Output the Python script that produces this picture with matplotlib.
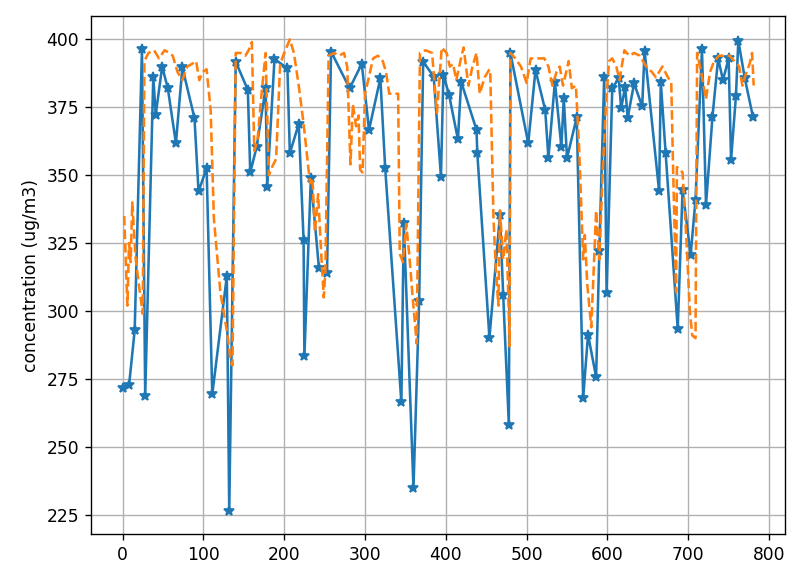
import matplotlib
matplotlib.use("Agg")
import matplotlib.pyplot as plt

# Observed series (blue, star markers)
obs_x = [0, 8, 15, 24, 28, 38, 41, 49, 56, 66, 74, 89, 94, 104, 111, 129, 132, 140,
         155, 158, 166, 177, 179, 188, 204, 207, 218, 224, 225, 233, 243, 253, 258,
         281, 296, 305, 319, 325, 345, 348, 360, 367, 372, 385, 394, 397, 404, 415,
         419, 438, 439, 454, 467, 471, 478, 480, 502, 511, 523, 527, 535, 543, 546,
         550, 562, 570, 576, 586, 590, 596, 599, 606, 614, 617, 622, 625, 633, 643,
         646, 664, 666, 672, 687, 693, 703, 709, 717, 722, 730, 737, 743, 750, 753,
         759, 762, 770, 780]
obs_y = [271.7, 272.6, 292.9, 396.5, 268.6, 386.3, 372.2, 390.0, 382.0, 361.8, 389.7,
         371.0, 344.0, 352.6, 269.3, 312.8, 226.4, 391.8, 381.4, 351.0, 360.5, 382.0,
         345.8, 392.8, 389.3, 358.1, 368.9, 326.2, 283.3, 348.9, 315.8, 314.0, 395.5,
         382.0, 391.0, 366.7, 385.7, 352.6, 266.4, 332.4, 234.9, 303.6, 391.8, 386.3,
         349.5, 387.0, 379.6, 363.2, 384.4, 366.7, 358.1, 290.1, 335.4, 306.0, 258.2,
         394.9, 361.8, 388.7, 374.0, 356.3, 384.4, 360.5, 378.3, 356.3, 371.3, 268.0,
         291.3, 275.7, 322.0, 386.3, 306.6, 382.0, 385.7, 374.6, 382.6, 371.0, 383.8,
         375.3, 395.8, 344.0, 384.4, 358.3, 293.4, 344.6, 320.7, 341.0, 396.3, 339.1,
         371.6, 393.0, 385.0, 393.0, 355.7, 379.0, 399.5, 385.7, 371.6]

# Predicted series (orange, dashed)
pred_x = [2, 6, 8, 10, 12, 16, 20, 25, 27, 32, 39, 45, 52, 58, 62, 68, 74, 80, 86, 91,
          95, 99, 104, 109, 113, 121, 130, 134, 136, 140, 146, 152, 156, 160, 163, 167,
          172, 177, 181, 185, 190, 195, 200, 207, 212, 218, 224, 232, 235, 238, 242,
          246, 249, 251, 255, 262, 268, 274, 278, 282, 285, 289, 292, 294, 297, 300,
          304, 310, 316, 322, 326, 330, 336, 341, 343, 347, 351, 355, 359, 364, 368,
          375, 383, 389, 395, 401, 405, 409, 413, 418, 422, 428, 433, 438, 442, 448,
          454, 455, 459, 462, 465, 467, 471, 475, 479, 480, 486, 493, 500, 505, 512,
          522, 527, 532, 537, 541, 545, 549, 552, 556, 561, 565, 570, 572, 575, 580,
          583, 586, 590, 594, 598, 602, 606, 611, 615, 621, 627, 633, 640, 648, 655,
          660, 668, 675, 679, 681, 685, 686, 690, 693, 698, 702, 705, 709, 711, 716,
          722, 727, 732, 738, 745, 751, 757, 763, 767, 771, 776, 779, 781]
pred_y = [335, 302, 325, 318, 340, 320, 310, 299, 392, 395, 396, 393, 396, 395, 394,
          388, 385, 390, 391, 392, 385, 388, 389, 374, 334, 307, 291, 281, 280, 395,
          395, 394, 396, 399, 359, 363, 380, 395, 350, 353, 356, 391, 395, 400, 395,
          383, 369, 347, 349, 329, 343, 320, 305, 315, 394, 395, 394, 395, 390, 354,
          376, 368, 372, 352, 351, 380, 385, 393, 394, 392, 388, 380, 380, 380, 321,
          318, 332, 320, 305, 288, 395, 396, 395, 373, 397, 395, 390, 391, 385, 392,
          397, 383, 390, 395, 380, 386, 389, 388, 334, 315, 302, 337, 319, 330, 287,
          395, 393, 390, 384, 393, 393, 393, 390, 383, 388, 390, 383, 388, 392, 382,
          383, 360, 319, 328, 310, 294, 315, 337, 319, 350, 375, 392, 393, 390, 385,
          396, 394, 395, 394, 390, 388, 386, 390, 386, 384, 356, 307, 353, 352, 351,
          325, 300, 291, 290, 395, 388, 378, 388, 392, 394, 394, 394, 392, 390, 383,
          387, 391, 395, 383]

DPI = 123
fig = plt.figure(figsize=(788 / DPI, 565 / DPI), dpi=DPI)
ax = fig.add_axes([0.1155, 0.054, 0.881, 0.918])
ax.plot(obs_x, obs_y, marker='*', color='C0')
ax.plot(pred_x, pred_y, linestyle='--', color='C1')
ax.set_ylabel('concentration (ug/m3)')
ax.grid(True)
fig.savefig('out.png', dpi=DPI)
